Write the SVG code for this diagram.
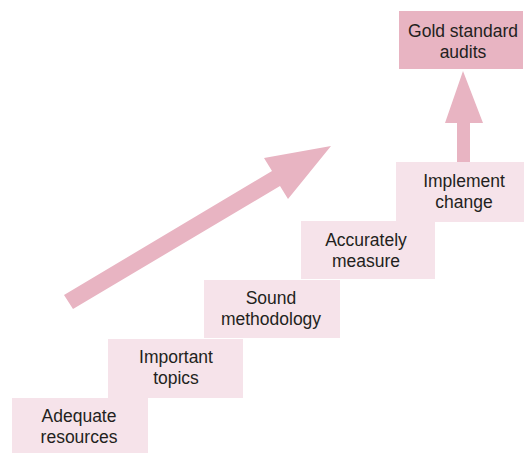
<svg xmlns="http://www.w3.org/2000/svg" width="524" height="453" viewBox="0 0 524 453">
<style>
.step{fill:#f6e3ea}
.top{fill:#e8b4c2}
.arrow{fill:#e8b4c2}
text{font-family:"Liberation Sans",Arial,sans-serif;font-size:17.5px;fill:#231f20;text-anchor:middle}
</style>
<rect width="524" height="453" fill="#ffffff"/>
<g id="connectors">
<polygon class="arrow" points="64,295 272,171 264,158 331,146 288,199 280,186 73,309"/>
<polygon class="arrow" points="457,162 457,123 445,123 463,71 483,123 470,123 470,162"/>
</g>
<g id="adequate-resources">
<rect class="step" x="12" y="398" width="136" height="55"/>
<text x="79" y="422">Adequate</text>
<text x="79" y="443">resources</text>
</g>
<g id="important-topics">
<rect class="step" x="108" y="339" width="135" height="59"/>
<text x="176" y="363">Important</text>
<text x="176" y="384">topics</text>
</g>
<g id="sound-methodology">
<rect class="step" x="204" y="280" width="136" height="58"/>
<text x="271" y="304">Sound</text>
<text x="271" y="325">methodology</text>
</g>
<g id="accurately-measure">
<rect class="step" x="301" y="221" width="134" height="58"/>
<text x="366" y="246">Accurately</text>
<text x="366" y="267">measure</text>
</g>
<g id="implement-change">
<rect class="step" x="396" y="162" width="128" height="60"/>
<text x="464" y="187">Implement</text>
<text x="464" y="208">change</text>
</g>
<g id="gold-standard-audits">
<rect class="top" x="399" y="11" width="124" height="58"/>
<text x="463" y="37">Gold standard</text>
<text x="463" y="58">audits</text>
</g>
</svg>
